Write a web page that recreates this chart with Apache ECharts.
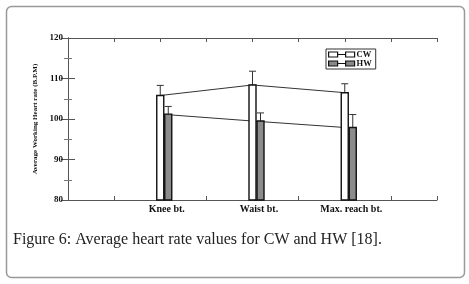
<!DOCTYPE html>
<html>
<head>
<meta charset="utf-8">
<script src="https://cdn.jsdelivr.net/npm/echarts@6/dist/echarts.min.js"></script>
<style>
  html, body { margin: 0; padding: 0; background: #fff; }
  #chart { width: 469px; height: 284px; }
</style>
</head>
<body>
<div id="chart"></div>
<script>
// categories sit at x = 1, 2, 3 on a 0..4 axis
const categories = ["Knee bt.", "Waist bt.", "Max. reach bt."];
const cwMean = [105.8, 108.4, 106.5];
const cwUpper = [108.3, 111.8, 108.7];
const hwMean = [101.2, 99.5, 97.9];
const hwUpper = [103.1, 101.5, 101.1];
const yTicks = [80, 90, 100, 110, 120];

const serif = "Liberation Serif";

function rows(mean, upper) {
    return mean.map((v, i) => [i + 1, v, upper[i]]);
}

// bar + error bar drawn through the axes, shifted sideways by dx pixels
function barRenderer(dx, fill) {
    return function (params, api) {
        const x = api.value(0);
        const top = api.coord([x, api.value(1)]);
        const base = api.coord([x, yTicks[0]]);
        const err = api.coord([x, api.value(2)]);
        const cx = top[0] + dx;
        const w = 7;
        return {
            type: "group",
            children: [
                {
                    type: "line",
                    shape: { x1: cx, y1: top[1], x2: cx, y2: err[1] },
                    style: { stroke: "#333", lineWidth: 1 },
                },
                {
                    type: "line",
                    shape: { x1: cx - w / 2, y1: err[1], x2: cx + w / 2, y2: err[1] },
                    style: { stroke: "#333", lineWidth: 1 },
                },
                {
                    type: "rect",
                    shape: { x: cx - w / 2, y: top[1], width: w, height: base[1] - top[1] },
                    style: { fill: fill, stroke: "#111", lineWidth: 1.4 },
                },
            ],
        };
    };
}

const legendIcon = "path://M0,0H9V5H0Z M9,2.5H17 M17,0H26V5H17Z";

let myCharts = echarts.init(document.getElementById("chart"));
myCharts.setOption({
    animation: false,
    grid: { left: 68, right: 32, top: 38, bottom: 84 },
    xAxis: [
        {
            type: "value",
            min: 0,
            max: 4,
            interval: 0.5,
            axisLine: { show: true, lineStyle: { color: "#555", width: 1 } },
            axisTick: { show: true, inside: true, length: 4, lineStyle: { color: "#555" } },
            splitLine: { show: false },
            axisLabel: {
                margin: 4,
                padding: [0, 0, 0, 13],
                fontFamily: serif,
                fontWeight: "bold",
                fontSize: 10,
                color: "#111",
                formatter: (v) => (Number.isInteger(v) && categories[v - 1]) || "",
            },
        },
        {
            type: "value",
            position: "top",
            min: 0,
            max: 4,
            interval: 0.5,
            axisLine: { show: true, lineStyle: { color: "#555", width: 1 } },
            axisTick: { show: true, inside: true, length: 4, lineStyle: { color: "#555" } },
            splitLine: { show: false },
            axisLabel: { show: false },
        },
    ],
    yAxis: [
        {
            type: "value",
            min: 80,
            max: 120,
            interval: 10,
            name: "Average Working Heart rate (B.P.M)",
            nameLocation: "middle",
            nameGap: 19,
            nameTextStyle: { fontFamily: serif, fontWeight: "bold", fontSize: 7, color: "#111" },
            axisLine: { show: true, lineStyle: { color: "#555", width: 1 } },
            axisTick: { show: true, inside: true, length: 7, lineStyle: { color: "#555" } },
            minorTick: { show: true, splitNumber: 2, length: 4, lineStyle: { color: "#777" } },
            splitLine: { show: false },
            axisLabel: {
                margin: 5,
                fontFamily: serif,
                fontWeight: "bold",
                fontSize: 9,
                color: "#111",
            },
        },
        {
            type: "value",
            position: "right",
            min: 80,
            max: 120,
            interval: 10,
            axisLine: { show: true, lineStyle: { color: "#555", width: 1 } },
            axisTick: { show: true, inside: true, length: 7, lineStyle: { color: "#555" } },
            minorTick: { show: true, splitNumber: 2, length: 4, lineStyle: { color: "#777" } },
            splitLine: { show: false },
            axisLabel: { show: false },
        },
    ],
    legend: {
        left: 326,
        top: 49,
        orient: "vertical",
        itemWidth: 26,
        itemHeight: 5,
        itemGap: 0,
        padding: [1, 4, 1, 2],
        borderColor: "#333",
        borderWidth: 1,
        textStyle: { fontFamily: serif, fontWeight: "bold", fontSize: 8.5, color: "#111", padding: [0, 0, 0, -3] },
        data: [
            { name: "CW", icon: legendIcon, itemStyle: { color: "#fff", borderColor: "#111", borderWidth: 1.2 } },
            { name: "HW", icon: legendIcon, itemStyle: { color: "#888", borderColor: "#111", borderWidth: 1.2 } },
        ],
    },
    series: [
        {
            name: "CW",
            type: "line",
            data: rows(cwMean, cwUpper),
            symbol: "none",
            z: 1,
            lineStyle: { color: "#333", width: 1 },
        },
        {
            name: "HW",
            type: "line",
            data: rows(hwMean, hwUpper),
            symbol: "none",
            z: 1,
            lineStyle: { color: "#333", width: 1 },
        },
        {
            name: "CW",
            type: "custom",
            data: rows(cwMean, cwUpper),
            renderItem: barRenderer(0, "#fff"),
            z: 3,
        },
        {
            name: "HW",
            type: "custom",
            data: rows(hwMean, hwUpper),
            renderItem: barRenderer(8, "#8c8c8c"),
            z: 3,
        },
    ],
    graphic: [
        {
            type: "rect",
            shape: { x: 6.5, y: 6.5, width: 458, height: 271, r: 5 },
            style: { fill: "none", stroke: "#999", lineWidth: 1.5 },
            silent: true,
        },
        {
            type: "text",
            left: 13,
            top: 232,
            style: {
                text: "Figure 6: Average heart rate values for CW and HW [18].",
                fontFamily: serif,
                fontSize: 16,
                fill: "#222",
            },
        },
    ],
});
</script>
</body>
</html>
